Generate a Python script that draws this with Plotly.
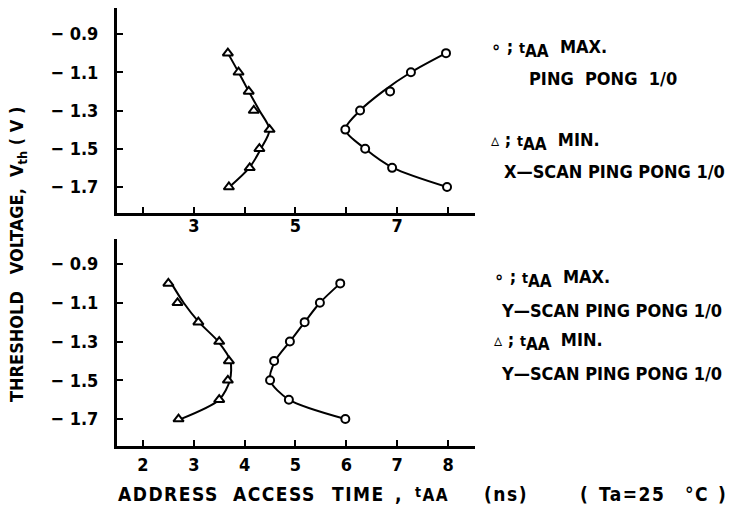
import plotly.graph_objects as go

# Threshold voltage levels (V)
vth = [-1.0, -1.1, -1.2, -1.3, -1.4, -1.5, -1.6, -1.7]

# Upper panel: X-scan ping-pong I/O, measured points (ns)
top_max_pts = [7.96, 7.27, 6.86, 6.27, 5.98, 6.37, 6.90, 7.98]
top_min_pts = [3.67, 3.88, 4.08, 4.18, 4.49, 4.29, 4.10, 3.69]
# Upper panel: smoothed trend curves (ns)
top_max_fit = [7.96, 7.27, 6.72, 6.27, 5.98, 6.37, 6.92, 7.98]
top_min_fit = [3.67, 3.88, 4.08, 4.29, 4.49, 4.32, 4.09, 3.70]

# Lower panel: Y-scan ping-pong I/O, measured points (ns)
bot_max_pts = [5.88, 5.48, 5.18, 4.89, 4.58, 4.50, 4.87, 5.98]
bot_min_pts = [2.50, 2.68, 3.09, 3.50, 3.69, 3.67, 3.50, 2.70]
# Lower panel: smoothed trend curves (ns)
bot_max_fit = [5.88, 5.48, 5.18, 4.89, 4.60, 4.50, 4.87, 5.98]
bot_min_fit = [2.56, 2.80, 3.10, 3.48, 3.72, 3.71, 3.50, 2.74]

# Axis ticks
x_top_ticks = [3, 5, 7]
x_top_minor = [2, 4, 6, 8]
x_bot_ticks = [2, 3, 4, 5, 6, 7, 8]
y_ticks = [-0.9, -1.1, -1.3, -1.5, -1.7]
y_labels = ["\u2212 0.9", "\u2212 1.1", "\u2212 1.3", "\u2212 1.5", "\u2212 1.7"]

FONT = "DejaVu Sans Condensed, Liberation Sans Narrow, Arial Narrow, sans-serif"
W, H = 730, 511

fig = go.Figure()

def add_panel(xa, ya, max_pts, min_pts, max_fit, min_fit):
    for fit in (max_fit, min_fit):
        fig.add_trace(go.Scatter(
            x=fit, y=vth, xaxis=xa, yaxis=ya, mode="lines",
            line=dict(color="black", width=2, shape="spline", smoothing=0.8),
            showlegend=False, hoverinfo="skip"))
    fig.add_trace(go.Scatter(
        x=max_pts, y=vth, xaxis=xa, yaxis=ya, mode="markers",
        marker=dict(symbol="circle", size=8, color="white",
                    line=dict(color="black", width=2)),
        showlegend=False))
    fig.add_trace(go.Scatter(
        x=min_pts, y=vth, xaxis=xa, yaxis=ya, mode="markers",
        marker=dict(symbol="triangle-up", size=9, color="white",
                    line=dict(color="black", width=2)),
        showlegend=False))

add_panel("x", "y", top_max_pts, top_min_pts, top_max_fit, top_min_fit)
add_panel("x2", "y2", bot_max_pts, bot_min_pts, bot_max_fit, bot_min_fit)

x_dom = [117 / W, 475 / W]
x_rng = [1.49, 8.53]
tick_font = dict(family=FONT, size=18, color="black", weight="bold")
axis_common = dict(showline=True, linecolor="black", linewidth=3,
                   ticks="inside", ticklen=6, tickwidth=1.5, tickcolor="black",
                   showgrid=False, zeroline=False, tickfont=tick_font)

fig.update_layout(
    width=W, height=H,
    margin=dict(l=0, r=0, t=0, b=0),
    paper_bgcolor="white", plot_bgcolor="white",
    showlegend=False,
    xaxis=dict(domain=x_dom, range=x_rng, anchor="y",
               tickvals=x_top_ticks,
               minor=dict(tickvals=x_top_minor, ticks="inside", ticklen=6,
                          tickwidth=1.5, tickcolor="black", showgrid=False),
               ticklabelstandoff=-6, **axis_common),
    yaxis=dict(domain=[(H - 213) / H, (H - 8) / H], range=[-1.836, -0.764],
               anchor="x", tickvals=y_ticks, ticktext=y_labels,
               ticklabelstandoff=12, **axis_common),
    xaxis2=dict(domain=x_dom, range=x_rng, anchor="y2",
                tickvals=x_bot_ticks, ticklabelstandoff=0, **axis_common),
    yaxis2=dict(domain=[(H - 446) / H, (H - 239) / H], range=[-1.839, -0.771],
                anchor="x2", tickvals=y_ticks, ticktext=y_labels,
                ticklabelstandoff=12, **axis_common),
)

NB = "\u00a0"

def note(text, px, py, size=18, angle=0, xanchor="left"):
    fig.add_annotation(
        text=text, x=px / W, y=(H - py) / H, xref="paper", yref="paper",
        xanchor=xanchor, yanchor="middle", showarrow=False, textangle=angle,
        font=dict(family=FONT, size=size, color="black", weight="bold"))

circ = "\u2218"
tri = "\u25b5"
# small raised "t" followed by a lowered, nearly full-size "AA"
t_aa = "<span style='font-size:14px'>t</span><sub><span style='font-size:17px'>AA</span></sub>"

# Upper panel legend text
note(f"{circ} ; {t_aa}{NB}{NB}MAX.", 489, 48)
note(f"PING{NB}{NB}PONG{NB}{NB}1/0", 527, 78)
note(f"{tri} ; {t_aa}{NB}{NB}MIN.", 489, 141)
note(f"X\u2014SCAN PING PONG 1/0", 502, 171)

# Lower panel legend text
note(f"{circ} ; {t_aa}{NB}{NB}MAX.", 492, 278)
note(f"Y\u2014SCAN PING PONG 1/0", 499, 310)
note(f"{tri} ; {t_aa}{NB}{NB}MIN.", 492, 341)
note(f"Y\u2014SCAN PING PONG 1/0", 499, 373)

# Vertical axis title
note(f"THRESHOLD{NB}{NB}{NB}VOLTAGE,{NB}{NB}V<sub>th</sub>{NB}({NB}V{NB})",
     18, 255, angle=-90, xanchor="center")

# Horizontal axis title, set word by word with wide tracking
title_words = [
    ("ADDRESS", 116),
    ("ACCESS", 231),
    ("TIME", 330),
    (",", 393),
    (t_aa, 413),
    ("(ns)", 482),
    ("(", 578),
    ("Ta=25", 597),
    ("\u00b0C", 683),
    (")", 716),
]
for word, left in title_words:
    note(f"<span style='letter-spacing:1.5px'>{word}</span>", left, 494, size=19)

fig.write_html("out.html")
